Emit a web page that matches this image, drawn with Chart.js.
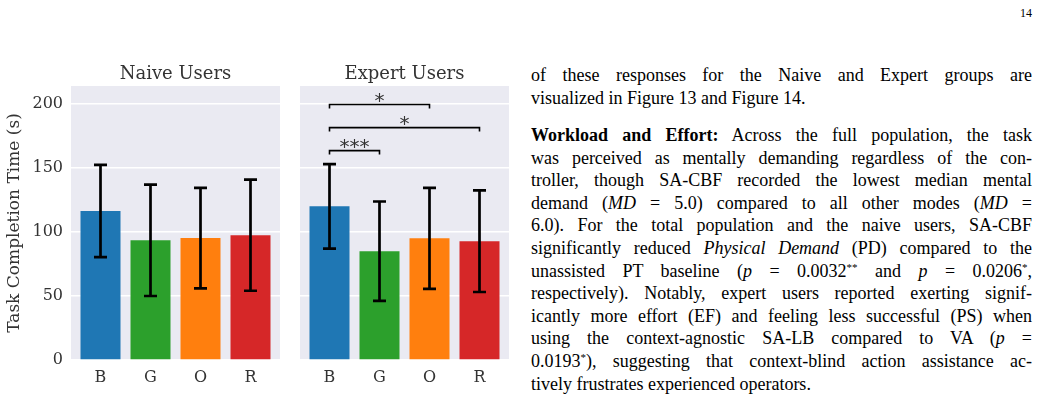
<!DOCTYPE html>
<html>
<head>
<meta charset="UTF-8">
<title>Task completion time</title>
<style>
  body { margin: 0; width: 1042px; height: 412px; background: #fff; position: relative; overflow: hidden; }
  canvas { position: absolute; top: 50px; }
  #naive { left: 0; }
  #expert { left: 300px; }
  #text { position: absolute; left: 531px; top: 64px; width: 501px; font-family: "Liberation Serif"; font-size: 18px; line-height: 22.6px; color: #000; }
  #text .ln { text-align: justify; text-align-last: justify; white-space: nowrap; }
  #text .ln.end { text-align-last: left; }
  #text .para { margin: 0 0 14.8px 0; }
  #text sup { font-size: 11px; line-height: 0; vertical-align: 6px; }
  #page { position: absolute; left: 1020px; top: 6px; font-family: "Liberation Serif"; font-size: 12px; }
</style>
</head>
<body>
<canvas id="naive" width="290" height="350"></canvas>
<canvas id="expert" width="220" height="350"></canvas>

<div id="page">14</div>
<div id="text">
  <div class="para">
    <div class="ln">of these responses for the Naive and Expert groups are</div>
    <div class="ln end">visualized in Figure 13 and Figure 14.</div>
  </div>
  <div class="para">
    <div class="ln"><b>Workload and Effort:</b> Across the full population, the task</div>
    <div class="ln">was perceived as mentally demanding regardless of the con-</div>
    <div class="ln">troller, though SA-CBF recorded the lowest median mental</div>
    <div class="ln">demand (<i>MD</i> = 5.0) compared to all other modes (<i>MD</i> =</div>
    <div class="ln">6.0). For the total population and the naive users, SA-CBF</div>
    <div class="ln">significantly reduced <i>Physical Demand</i> (PD) compared to the</div>
    <div class="ln">unassisted PT baseline (<i>p</i> = 0.0032<sup>**</sup> and <i>p</i> = 0.0206<sup>*</sup>,</div>
    <div class="ln">respectively). Notably, expert users reported exerting signif-</div>
    <div class="ln">icantly more effort (EF) and feeling less successful (PS) when</div>
    <div class="ln">using the context-agnostic SA-LB compared to VA (<i>p</i> =</div>
    <div class="ln">0.0193<sup>*</sup>), suggesting that context-blind action assistance ac-</div>
    <div class="ln end">tively frustrates experienced operators.</div>
  </div>
</div>

<script src="https://cdn.jsdelivr.net/npm/chart.js@4.4.1/dist/chart.umd.min.js"></script>

<script>
const categories = ['B', 'G', 'O', 'R'];
const barColors = ['#1f77b4', '#2ca02c', '#ff7f0e', '#d62728'];
const naiveMeans = [116.4, 93.5, 95.2, 97.5];
const naiveErrors = [36.0, 43.5, 39.2, 43.4];
const expertMeans = [120.0, 85.0, 95.0, 92.8];
const expertErrors = [33.0, 38.8, 39.5, 39.7];
const yTicks = [0, 50, 100, 150, 200];
const sigPairs = [[0, 1], [0, 3], [0, 2]];
const sigLabels = ['***', '*', '*'];
const sigLevels = [163.5, 181.5, 199.5];

Chart.defaults.font.family = '"DejaVu Serif"';
Chart.defaults.color = '#333';

// seaborn-like grey panel, plus the panel title centred over the plot area
const plotBackground = {
  id: 'plotBackground',
  beforeDraw(chart, args, opts) {
    const a = chart.chartArea;
    const ctx = chart.ctx;
    ctx.save();
    ctx.fillStyle = '#eaeaf2';
    ctx.fillRect(a.left, a.top, a.width, a.height);
    ctx.fillStyle = '#333';
    ctx.font = '18px "DejaVu Serif"';
    ctx.textAlign = 'center';
    ctx.textBaseline = 'middle';
    ctx.fillText(opts.title, (a.left + a.right) / 2, a.top - 12);
    ctx.restore();
  }
};

const errorBars = {
  id: 'errorBars',
  afterDatasetsDraw(chart, args, opts) {
    const ctx = chart.ctx;
    const y = chart.scales.y;
    const ds = chart.data.datasets[0].data;
    ctx.save();
    ctx.strokeStyle = '#000';
    ctx.lineWidth = 2.7;
    chart.getDatasetMeta(0).data.forEach((bar, i) => {
      const top = y.getPixelForValue(ds[i].y + opts.errors[i]);
      const bot = y.getPixelForValue(ds[i].y - opts.errors[i]);
      ctx.beginPath();
      ctx.moveTo(bar.x, top); ctx.lineTo(bar.x, bot);
      ctx.moveTo(bar.x - 6.5, top); ctx.lineTo(bar.x + 6.5, top);
      ctx.moveTo(bar.x - 6.5, bot); ctx.lineTo(bar.x + 6.5, bot);
      ctx.stroke();
    });
    ctx.restore();
  }
};

const sigBrackets = {
  id: 'sigBrackets',
  afterDatasetsDraw(chart, args, opts) {
    if (!opts.pairs) return;
    const ctx = chart.ctx;
    const x = chart.scales.x, y = chart.scales.y;
    ctx.save();
    opts.pairs.forEach(([a, b], k) => {
      const x1 = x.getPixelForValue(a), x2 = x.getPixelForValue(b);
      const yl = y.getPixelForValue(opts.levels[k]);
      const drop = y.getPixelForValue(opts.levels[k] - 3);
      ctx.strokeStyle = '#000';
      ctx.lineWidth = 1.6;
      ctx.beginPath();
      ctx.moveTo(x1, drop); ctx.lineTo(x1, yl); ctx.lineTo(x2, yl); ctx.lineTo(x2, drop);
      ctx.stroke();
      ctx.fillStyle = '#333';
      ctx.font = '20px "DejaVu Sans"';
      ctx.textAlign = 'center';
      ctx.textBaseline = 'alphabetic';
      ctx.fillText(opts.labels[k], (x1 + x2) / 2, yl + 2);
    });
    ctx.restore();
  }
};

function makeChart(id, title, means, errors, showY, padRight, brackets) {
  return new Chart(document.getElementById(id), {
    type: 'bar',
    data: {
      datasets: [{
        data: means.map((v, i) => ({ x: i, y: v })),
        backgroundColor: barColors,
        borderWidth: 0,
        categoryPercentage: 1.0,
        barPercentage: 0.8
      }]
    },
    options: {
      responsive: false,
      animation: false,
      layout: { padding: { left: 0, right: padRight, top: 36, bottom: 0 } },
      plugins: {
        legend: { display: false },
        tooltip: { enabled: false },
        title: { display: false },
        plotBackground: { title: title },
        errorBars: { errors: errors },
        sigBrackets: brackets || {}
      },
      scales: {
        x: {
          type: 'linear',
          offset: false,
          min: -0.59,
          max: 3.59,
          grid: { display: false },
          border: { display: false },
          afterBuildTicks: s => { s.ticks = categories.map((c, i) => ({ value: i })); },
          afterFit: s => { s.height = 40; },
          ticks: {
            font: { size: 16 },
            color: '#333',
            padding: 0,
            autoSkip: false,
            maxRotation: 0,
            callback: v => categories[v]
          }
        },
        y: {
          min: 0,
          max: 214,
          grid: { color: '#fff', lineWidth: 1.5, drawTicks: false },
          border: { display: false },
          afterBuildTicks: s => { s.ticks = yTicks.map(v => ({ value: v })); },
          afterFit: s => { s.width = showY ? 71 : 0; },
          ticks: { display: showY, font: { size: 16 }, color: '#333', padding: 8 },
          title: {
            display: showY,
            text: 'Task Completion Time (s)',
            color: '#333',
            font: { size: 17 },
            padding: { top: 4, bottom: 0 }
          }
        }
      }
    },
    plugins: [plotBackground, errorBars, sigBrackets]
  });
}

makeChart('naive', 'Naive Users', naiveMeans, naiveErrors, true, 10, null);
makeChart('expert', 'Expert Users', expertMeans, expertErrors, false, 11,
  { pairs: sigPairs, labels: sigLabels, levels: sigLevels });
</script>
</body>
</html>
